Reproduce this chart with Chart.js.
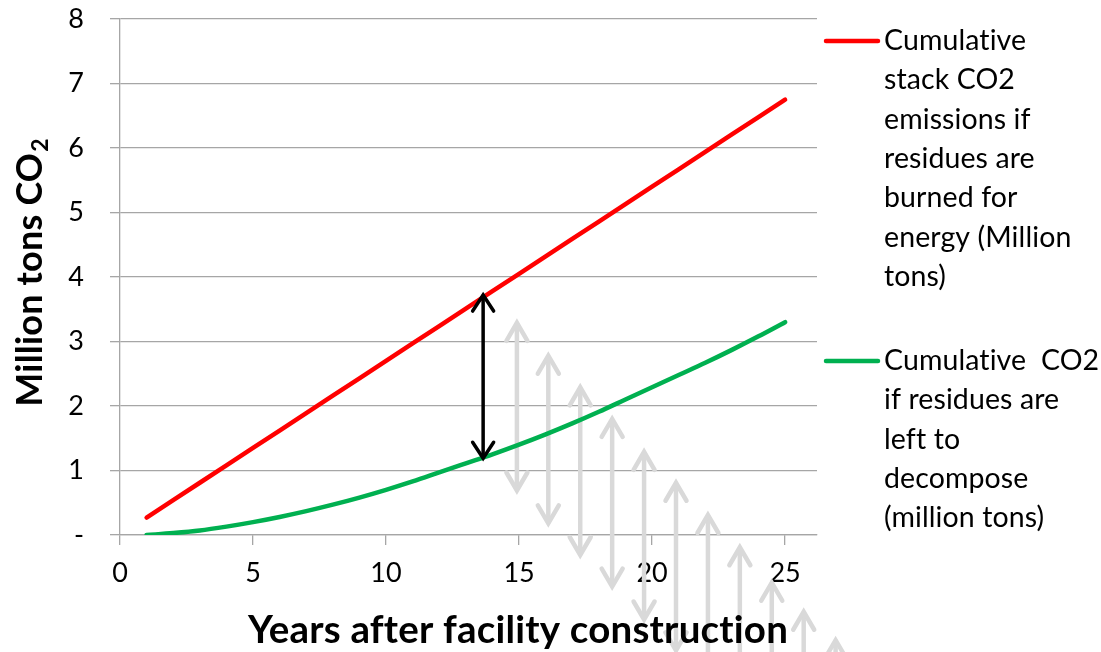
<!DOCTYPE html>
<html>
<head>
<meta charset="utf-8">
<script src="https://cdn.jsdelivr.net/npm/chart.js@4.4.1/dist/chart.umd.min.js"></script>
<style>
  html, body { margin: 0; padding: 0; background: #ffffff; overflow: hidden; }
  canvas { display: block; }
</style>
</head>
<body>
<canvas id="chart" width="1101" height="652"></canvas>
<script>
// Years after the facility is built
const years = [1, 2, 3, 4, 5, 6, 7, 8, 9, 10, 11, 12, 13, 14, 15, 16, 17, 18, 19, 20, 21, 22, 23, 24, 25];

// Cumulative stack CO2 if residues are burned for energy (million tons)
const burnedCO2 = [0.27, 0.54, 0.81, 1.08, 1.35, 1.62, 1.89, 2.16, 2.43, 2.70, 2.97, 3.24, 3.51,
                   3.78, 4.05, 4.32, 4.59, 4.86, 5.13, 5.40, 5.67, 5.94, 6.21, 6.48, 6.75];

// Cumulative CO2 if residues are left to decompose (million tons)
const decomposeCO2 = [0.00, 0.03, 0.07, 0.13, 0.20, 0.28, 0.37, 0.47, 0.58, 0.70, 0.83, 0.97, 1.11,
                      1.25, 1.40, 1.56, 1.73, 1.91, 2.10, 2.29, 2.48, 2.67, 2.87, 3.08, 3.30];

const xTickValues = [0, 5, 10, 15, 20, 25];
const yTickLabels = ['-', '1', '2', '3', '4', '5', '6', '7', '8'];

const burnedLegendLines = ['Cumulative', 'stack CO2', 'emissions if', 'residues are', 'burned for', 'energy (Million', 'tons)'];
const decomposeLegendLines = ['Cumulative  CO2', 'if residues are', 'left to', 'decompose', '(million tons)'];

// Gap between the two curves at one point in time
const gapArrowYear = [13.65];
const gapArrowTop = [3.72];
const gapArrowBottom = [1.19];

// Same gap, shifted forward in time and downward (light grey arrows)
const shiftArrowYears   = [14.92, 16.1, 17.3, 18.5, 19.7, 20.9, 22.1, 23.3, 24.5, 25.7, 26.9];
const shiftArrowTops    = [3.29, 2.78, 2.29, 1.80, 1.29, 0.81, 0.31, -0.19, -0.74, -1.19, -1.63];
const shiftArrowBottoms = [0.69, 0.18, -0.31, -0.80, -1.31, -1.79, -2.29, -2.79, -3.34, -3.79, -4.23];

const FONT = 'Lato, "Open Sans", sans-serif';

function drawDoubleArrow(ctx, x, yTop, yBottom, color, width, headHalf, headLen) {
  ctx.save();
  ctx.strokeStyle = color;
  ctx.lineWidth = width;
  ctx.lineCap = 'round';
  ctx.lineJoin = 'miter';
  ctx.beginPath();
  ctx.moveTo(x, yTop + 1);
  ctx.lineTo(x, yBottom - 1);
  ctx.stroke();
  ctx.beginPath();
  ctx.moveTo(x - headHalf, yTop + headLen);
  ctx.lineTo(x, yTop);
  ctx.lineTo(x + headHalf, yTop + headLen);
  ctx.stroke();
  ctx.beginPath();
  ctx.moveTo(x - headHalf, yBottom - headLen);
  ctx.lineTo(x, yBottom);
  ctx.lineTo(x + headHalf, yBottom - headLen);
  ctx.stroke();
  ctx.restore();
}

const arrowsPlugin = {
  id: 'gapArrows',
  beforeDatasetsDraw(chart) {
    const { ctx, scales: { x, y } } = chart;
    shiftArrowYears.forEach((yr, i) => {
      drawDoubleArrow(ctx, x.getPixelForValue(yr), y.getPixelForValue(shiftArrowTops[i]),
        y.getPixelForValue(shiftArrowBottoms[i]), '#d9d9d9', 4.5, 10.5, 18);
    });
  },
  afterDatasetsDraw(chart) {
    const { ctx, scales: { x, y } } = chart;
    gapArrowYear.forEach((yr, i) => {
      drawDoubleArrow(ctx, x.getPixelForValue(yr), y.getPixelForValue(gapArrowTop[i]),
        y.getPixelForValue(gapArrowBottom[i]), '#000000', 3.5, 10.5, 16);
    });
  }
};

const textPlugin = {
  id: 'titlesAndLegend',
  afterDraw(chart) {
    const { ctx } = chart;

    // y axis title, with a subscript 2
    ctx.save();
    ctx.fillStyle = '#000000';
    ctx.letterSpacing = '0.2px';
    ctx.translate(42, 273);
    ctx.rotate(-Math.PI / 2);
    const main = 'Million tons CO';
    ctx.font = 'bold 36px ' + FONT;
    const wMain = ctx.measureText(main).width;
    ctx.font = 'bold 23px ' + FONT;
    const wSub = ctx.measureText('2').width;
    const start = -(wMain + wSub) / 2;
    ctx.textBaseline = 'alphabetic';
    ctx.textAlign = 'left';
    ctx.font = 'bold 36px ' + FONT;
    ctx.fillText(main, start, 0);
    ctx.font = 'bold 23px ' + FONT;
    ctx.fillText('2', start + wMain + 1, 6);
    ctx.restore();

    // x axis title
    ctx.save();
    ctx.fillStyle = '#000000';
    ctx.letterSpacing = '0.2px';
    ctx.font = 'bold 38.5px ' + FONT;
    ctx.textAlign = 'center';
    ctx.textBaseline = 'middle';
    ctx.fillText('Years after facility construction', 518, 631);
    ctx.restore();

    // legend: line sample plus wrapped label for each series
    ctx.save();
    ctx.letterSpacing = '0.1px';
    const items = [
      { lines: burnedLegendLines, color: chart.data.datasets[0].borderColor, y: 41 },
      { lines: decomposeLegendLines, color: chart.data.datasets[1].borderColor, y: 361 }
    ];
    items.forEach(item => {
      ctx.strokeStyle = item.color;
      ctx.lineWidth = 4.5;
      ctx.lineCap = 'round';
      ctx.beginPath();
      ctx.moveTo(826, item.y);
      ctx.lineTo(878, item.y);
      ctx.stroke();
      ctx.fillStyle = '#000000';
      ctx.font = '28.5px ' + FONT;
      ctx.textAlign = 'left';
      ctx.textBaseline = 'middle';
      item.lines.forEach((line, k) => {
        ctx.fillText(line, 884, item.y + k * 39.3);
      });
    });
    ctx.restore();
  }
};

new Chart(document.getElementById('chart'), {
  type: 'line',
  data: {
    datasets: [
      {
        label: burnedLegendLines.join(' '),
        data: years.map((yr, i) => ({ x: yr, y: burnedCO2[i] })),
        borderColor: '#ff0000',
        borderWidth: 4.5,
        pointRadius: 0,
        fill: false,
        borderCapStyle: 'round'
      },
      {
        label: decomposeLegendLines.join(' '),
        data: years.map((yr, i) => ({ x: yr, y: decomposeCO2[i] })),
        borderColor: '#00b050',
        borderWidth: 4.5,
        pointRadius: 0,
        fill: false,
        cubicInterpolationMode: 'monotone',
        borderCapStyle: 'round'
      }
    ]
  },
  options: {
    responsive: false,
    animation: false,
    devicePixelRatio: 1,
    layout: { padding: { top: 19, right: 284, left: 0, bottom: 0 } },
    plugins: { legend: { display: false }, tooltip: { enabled: false } },
    scales: {
      x: {
        type: 'linear',
        min: 0,
        max: 26.2,
        z: 1,
        afterBuildTicks(scale) { scale.ticks = xTickValues.map(v => ({ value: v })); },
        afterFit(scale) { scale.height = 117; scale.paddingLeft = 0; scale.paddingRight = 0; },
        grid: { drawOnChartArea: false, drawTicks: true, tickLength: 10, color: '#a6a6a6', lineWidth: 1.3 },
        border: { display: true, color: '#a6a6a6', width: 1.3 },
        ticks: { font: { family: FONT, size: 27 }, color: '#000000', padding: 12, maxRotation: 0 }
      },
      y: {
        min: 0,
        max: 8,
        afterBuildTicks(scale) { scale.ticks = yTickLabels.map((_, i) => ({ value: i })); },
        afterFit(scale) { scale.width = 120; scale.paddingTop = 0; scale.paddingBottom = 0; },
        grid: { color: '#a6a6a6', lineWidth: 1.3, tickLength: 10, drawTicks: true },
        border: { display: true, color: '#a6a6a6', width: 1.3 },
        ticks: {
          font: { family: FONT, size: 27 },
          color: '#000000',
          padding: 26,
          callback: (v) => yTickLabels[v]
        }
      }
    }
  },
  plugins: [arrowsPlugin, textPlugin]
});
</script>
</body>
</html>
